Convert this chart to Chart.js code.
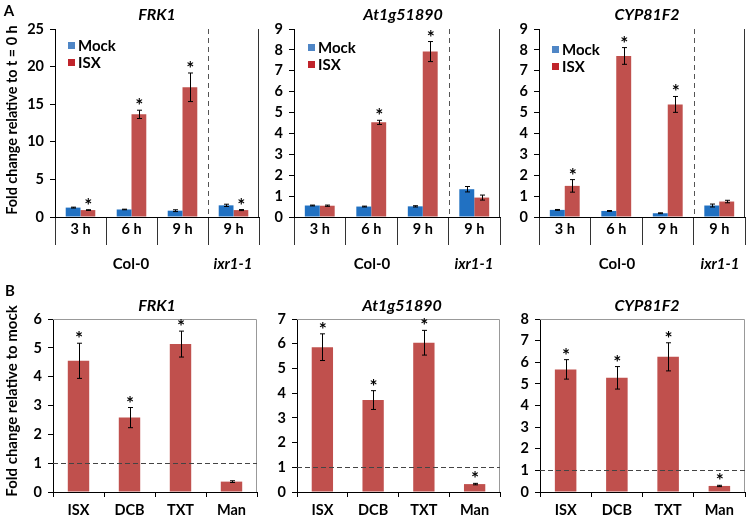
<!DOCTYPE html>
<html>
<head>
<meta charset="utf-8">
<script src="https://cdn.jsdelivr.net/npm/chart.js@4.4.1/dist/chart.umd.min.js"></script>
<style>
body { margin: 0; background: #fff; }
#page { position: relative; width: 748px; height: 517px; overflow: hidden; font-family: Lato, sans-serif; }
canvas { position: absolute; }
.t { position: absolute; font-weight: bold; font-size: 15px; color: #000; white-space: nowrap; transform: translate(-50%, -50%); }
.rot { font-size: 14.4px; transform: translate(-50%, -50%) rotate(-90deg); }
.it { font-style: italic; }
</style>
</head>
<body>
<div id="page">
  <canvas id="a1" width="262" height="275" style="left:0;top:0"></canvas>
  <canvas id="a2" width="240" height="275" style="left:262px;top:0"></canvas>
  <canvas id="a3" width="246" height="275" style="left:502px;top:0"></canvas>
  <canvas id="b1" width="262" height="237" style="left:0;top:280px"></canvas>
  <canvas id="b2" width="240" height="237" style="left:262px;top:280px"></canvas>
  <canvas id="b3" width="246" height="237" style="left:502px;top:280px"></canvas>

  <div class="t" style="left:9px;top:10px">A</div>
  <div class="t" style="left:10px;top:290px">B</div>
  <div class="t rot" style="left:11px;top:120px">Fold change relative to t = 0 h</div>
  <div class="t rot" style="left:11px;top:401px;font-size:15px">Fold change relative to mock</div>

  <div class="t" style="left:131px;top:263px">Col-0</div>
  <div class="t it" style="left:233px;top:263px">ixr1-1</div>
  <div class="t" style="left:372px;top:263px">Col-0</div>
  <div class="t it" style="left:474px;top:263px">ixr1-1</div>
  <div class="t" style="left:617px;top:263px">Col-0</div>
  <div class="t it" style="left:720px;top:263px">ixr1-1</div>
</div>

<script>
// categories
const timeLabels = ['3 h', '6 h', '9 h', '9 h'];
const treatLabels = ['ISX', 'DCB', 'TXT', 'Man'];

// A: time course, Mock vs ISX
const frk1Mock = [1.25, 1.0, 0.84, 1.55];
const frk1MockErr = [0.06, 0.04, 0.12, 0.15];
const frk1Isx = [0.92, 13.65, 17.25, 0.92];
const frk1IsxErr = [0.05, 0.55, 1.9, 0.07];
const frk1Stars = [true, true, true, true];

const at1Mock = [0.55, 0.5, 0.51, 1.33];
const at1MockErr = [0.02, 0.02, 0.03, 0.13];
const at1Isx = [0.54, 4.53, 7.92, 0.93];
const at1IsxErr = [0.03, 0.1, 0.48, 0.12];
const at1Stars = [false, true, true, false];

const cypMock = [0.34, 0.29, 0.18, 0.55];
const cypMockErr = [0.02, 0.02, 0.02, 0.07];
const cypIsx = [1.49, 7.71, 5.39, 0.74];
const cypIsxErr = [0.3, 0.4, 0.38, 0.06];
const cypStars = [true, true, true, false];

// B: treatments relative to mock
const frk1Treat = [4.55, 2.58, 5.13, 0.36];
const frk1TreatErr = [0.61, 0.35, 0.45, 0.03];
const frk1TreatStars = [true, true, true, false];

const at1Treat = [5.86, 3.72, 6.04, 0.32];
const at1TreatErr = [0.54, 0.38, 0.5, 0.03];
const at1TreatStars = [true, true, true, true];

const cypTreat = [5.67, 5.28, 6.25, 0.28];
const cypTreatErr = [0.45, 0.52, 0.65, 0.03];
const cypTreatStars = [true, true, true, true];

const MOCK = '#2171C2';
const RED = '#C0504D';
const FONT = 'Lato, sans-serif';

// error bars, stars, titles, legend, dashed lines
const extras = {
    id: 'extras',
    afterDatasetsDraw(chart, args, o) {
        const ctx = chart.ctx, a = chart.chartArea, y = chart.scales.y, x = chart.scales.x;
        ctx.save();

        if (o.row === 'A') {
            // dashed separator before ixr1-1
            const xd = (x.getPixelForValue(2) + x.getPixelForValue(3)) / 2;
            ctx.strokeStyle = '#555';
            ctx.lineWidth = 1;
            ctx.setLineDash([5, 4]);
            ctx.beginPath();
            ctx.moveTo(Math.round(xd) + 0.5, a.top);
            ctx.lineTo(Math.round(xd) + 0.5, a.bottom);
            ctx.stroke();
            ctx.setLineDash([]);
            ctx.strokeStyle = '#333';
            ctx.beginPath();
            ctx.moveTo(Math.round(a.right) - 0.5, a.top);
            ctx.lineTo(Math.round(a.right) - 0.5, a.bottom);
            ctx.stroke();
        } else {
            // plot box and y = 1 reference line
            ctx.strokeStyle = '#999';
            ctx.lineWidth = 1;
            ctx.beginPath();
            ctx.moveTo(a.left, Math.round(a.top) + 0.5);
            ctx.lineTo(Math.round(a.right) - 0.5, Math.round(a.top) + 0.5);
            ctx.lineTo(Math.round(a.right) - 0.5, a.bottom);
            ctx.stroke();
            const y1 = Math.round(y.getPixelForValue(1)) + 0.5;
            ctx.strokeStyle = '#444';
            ctx.setLineDash([5, 3]);
            ctx.beginPath();
            ctx.moveTo(a.left, y1);
            ctx.lineTo(a.right, y1);
            ctx.stroke();
            ctx.setLineDash([]);
        }

        ctx.strokeStyle = '#000';
        ctx.fillStyle = '#000';
        ctx.lineWidth = 1;
        ctx.font = 'bold 19px ' + FONT;
        ctx.textAlign = 'center';
        ctx.textBaseline = 'alphabetic';
        chart.data.datasets.forEach((ds, i) => {
            chart.getDatasetMeta(i).data.forEach((bar, j) => {
                const v = ds.data[j], e = ds.err[j];
                const bx = Math.round(bar.x) + 0.5;
                const yt = y.getPixelForValue(v + e), yb = y.getPixelForValue(v - e);
                ctx.beginPath();
                ctx.moveTo(bx, yt); ctx.lineTo(bx, yb);
                ctx.moveTo(bx - 2.5, yt); ctx.lineTo(bx + 2.5, yt);
                ctx.moveTo(bx - 2.5, yb); ctx.lineTo(bx + 2.5, yb);
                ctx.stroke();
                if (ds.stars && ds.stars[j]) ctx.fillText('*', bar.x + 0.5, yt + 2);
            });
        });

        ctx.font = 'italic bold 16px ' + FONT;
        ctx.textBaseline = 'middle';
        ctx.fillText(o.title, o.titleX, o.titleY);

        if (o.legend) {
            const [lx, ly] = o.legend;
            ctx.font = 'bold 15px ' + FONT;
            ctx.textAlign = 'left';
            ctx.fillStyle = '#4F86C6';
            ctx.fillRect(lx, ly, 7, 7);
            ctx.fillStyle = '#C0242B';
            ctx.fillRect(lx, ly + 17, 7, 7);
            ctx.fillStyle = '#000';
            ctx.fillText('Mock', lx + 10, ly + 4);
            ctx.fillText('ISX', lx + 10, ly + 21);
        }
        ctx.restore();
    }
};

function makeChart(id, p) {
    const isA = p.row === 'A';
    return new Chart(document.getElementById(id), {
        type: 'bar',
        data: { labels: p.labels, datasets: p.datasets },
        options: {
            responsive: false,
            animation: false,
            layout: { padding: { left: p.padLeft, right: p.padRight, top: isA ? 29 : 39, bottom: 0 } },
            datasets: { bar: { categoryPercentage: isA ? 0.58 : 0.42, barPercentage: 1 } },
            scales: {
                x: {
                    afterFit: s => { s.height = isA ? 58 : 25; },
                    grid: { drawOnChartArea: false, drawTicks: true, tickLength: isA ? 28 : 5, color: isA ? '#333' : '#000' },
                    border: { display: true, color: '#000' },
                    ticks: { color: '#000', padding: isA ? -24 : 5, font: { family: FONT, weight: 'bold', size: 14.5 } }
                },
                y: {
                    min: 0, max: p.max,
                    afterFit: s => { s.width = 30; },
                    grid: { drawOnChartArea: false, drawTicks: true, tickLength: 5, color: '#000' },
                    border: { display: true, color: '#000' },
                    ticks: { stepSize: p.step, color: '#000', padding: 6, font: { family: FONT, weight: 'bold', size: 14.5 } }
                }
            },
            plugins: {
                legend: { display: false },
                tooltip: { enabled: false },
                extras: { row: p.row, title: p.title, titleX: p.titleX, titleY: isA ? 15 : 26, legend: p.legend }
            }
        },
        plugins: [extras]
    });
}

function pair(mock, mockErr, isx, isxErr, stars) {
    return [
        { data: mock, err: mockErr, backgroundColor: MOCK },
        { data: isx, err: isxErr, stars: stars, backgroundColor: RED }
    ];
}

makeChart('a1', { row: 'A', labels: timeLabels, datasets: pair(frk1Mock, frk1MockErr, frk1Isx, frk1IsxErr, frk1Stars),
    max: 25, step: 5, padLeft: 25, padRight: 3, title: 'FRK1', titleX: 157, legend: [68, 42] });
makeChart('a2', { row: 'A', labels: timeLabels, datasets: pair(at1Mock, at1MockErr, at1Isx, at1IsxErr, at1Stars),
    max: 9, step: 1, padLeft: 2, padRight: 2, title: 'At1g51890', titleX: 141, legend: [46, 44] });
makeChart('a3', { row: 'A', labels: timeLabels, datasets: pair(cypMock, cypMockErr, cypIsx, cypIsxErr, cypStars),
    max: 9, step: 1, padLeft: 7, padRight: 3, title: 'CYP81F2', titleX: 145, legend: [50, 46] });

makeChart('b1', { row: 'B', labels: treatLabels, datasets: [{ data: frk1Treat, err: frk1TreatErr, stars: frk1TreatStars, backgroundColor: RED }],
    max: 6, step: 1, padLeft: 23, padRight: 5, title: 'FRK1', titleX: 157 });
makeChart('b2', { row: 'B', labels: treatLabels, datasets: [{ data: at1Treat, err: at1TreatErr, stars: at1TreatStars, backgroundColor: RED }],
    max: 7, step: 1, padLeft: 5, padRight: 2, title: 'At1g51890', titleX: 140 });
makeChart('b3', { row: 'B', labels: treatLabels, datasets: [{ data: cypTreat, err: cypTreatErr, stars: cypTreatStars, backgroundColor: RED }],
    max: 8, step: 1, padLeft: 8, padRight: 3, title: 'CYP81F2', titleX: 145 });
</script>
</body>
</html>
